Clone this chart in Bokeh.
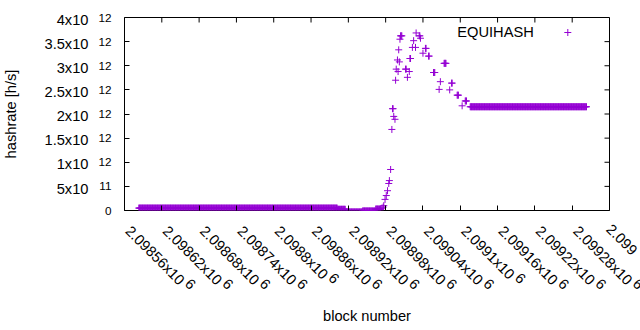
import math
from bokeh.plotting import figure
from bokeh.models import Range1d, FixedTicker, LinearAxis, Label, ColumnDataSource
from bokeh.embed import file_html
from bokeh.resources import INLINE

# ---- data ----
# runs of constant hashrate: first block, last block, hashrate [h/s]
run_first = [2098583, 2098903, 2098916, 2098943, 2098964, 2099116]
run_last = [2098902, 2098915, 2098942, 2098963, 2098972, 2099303]
run_rate = [5.0e10, 2.5e10, -3.0e10, -1.0e10, 3.0e10, 2.15e12]

# individually read blocks
pt_block = [2098974, 2098976, 2098977, 2098979, 2098981, 2098983, 2098985, 2098986,
            2098988, 2098990, 2098991, 2098992, 2098993, 2098995, 2098996, 2098997,
            2098999, 2099000, 2099001, 2099002, 2099003, 2099004, 2099005, 2099006,
            2099012, 2099013, 2099015, 2099018, 2099019, 2099020, 2099023, 2099025,
            2099028, 2099029, 2099034, 2099035, 2099036, 2099040, 2099044, 2099045,
            2099049, 2099050, 2099057, 2099058, 2099059, 2099066, 2099068, 2099074,
            2099075, 2099076, 2099077, 2099083, 2099086, 2099087, 2099095, 2099096,
            2099097, 2099103, 2099108, 2099109, 2099110]
pt_rate = [5.0e10, 7.0e10, 1.0e11, 2.3e11, 3.1e11, 4.1e11, 5.6e11, 6.2e11,
           8.5e11, 1.68e12, 2.11e12, 2.11e12, 1.95e12, 1.89e12, 2.70e12, 2.93e12,
           3.12e12, 2.88e12, 3.33e12, 3.08e12, 3.55e12, 3.62e12, 3.62e12, 3.62e12,
           2.93e12, 2.93e12, 2.76e12, 2.88e12, 3.15e12, 3.15e12, 3.38e12, 3.52e12,
           3.38e12, 3.68e12, 3.62e12, 3.62e12, 3.57e12, 3.26e12, 3.36e12, 3.36e12,
           3.20e12, 3.20e12, 2.86e12, 2.86e12, 2.86e12, 2.51e12, 2.67e12, 3.05e12,
           3.05e12, 3.05e12, 3.05e12, 2.50e12, 2.64e12, 2.64e12, 2.39e12, 2.39e12,
           2.39e12, 2.17e12, 2.27e12, 2.27e12, 2.27e12]

x_ticks = [2098560, 2098620, 2098680, 2098740, 2098800, 2098860, 2098920,
           2098980, 2099040, 2099100, 2099160, 2099220, 2099280, 2099340]
x_tick_mant = ["2.09856x10", "2.09862x10", "2.09868x10", "2.09874x10", "2.0988x10",
               "2.09886x10", "2.09892x10", "2.09898x10", "2.09904x10", "2.0991x10",
               "2.09916x10", "2.09922x10", "2.09928x10", "2.099"]  # last one cut by the edge
x_tick_exp = ["6"] * 13 + [""]

y_ticks = [0, 5e11, 1e12, 1.5e12, 2e12, 2.5e12, 3e12, 3.5e12, 4e12]
y_tick_main = ["0", "5x10", "1x10", "1.5x10", "2x10", "2.5x10", "3x10", "3.5x10", "4x10"]
y_tick_exp = ["", "11", "12", "12", "12", "12", "12", "12", "12"]

series_name = "EQUIHASH"
x_title = "block number"
y_title = "hashrate [h/s]"

# ---- expand runs ----
blocks, rates = [], []
for f, l, r in zip(run_first, run_last, run_rate):
    for b in range(f, l + 1):
        blocks.append(b)
        rates.append(r)
blocks += pt_block
rates += pt_rate

# ---- style ----
FONT = "Liberation Sans"
FS = "14.67px"
FS_EXP = "11.73px"
COLOR = "#9400d3"
FW, FH = 485, 193
TICK = 5

p = figure(frame_width=FW, frame_height=FH,
           min_border_left=124, min_border_right=31, min_border_top=17, min_border_bottom=120,
           x_range=Range1d(x_ticks[0], x_ticks[-1]), y_range=Range1d(y_ticks[0], y_ticks[-1]),
           x_axis_type=None, y_axis_type=None,
           output_backend="svg", toolbar_location=None)
p.extra_x_ranges = {"px": Range1d(0, FW)}
p.extra_y_ranges = {"px": Range1d(0, FH)}
# mantissas of the y labels sit ~2px below their tick
d = 2.2 * (y_ticks[-1] - y_ticks[0]) / FH
p.extra_y_ranges["ymant"] = Range1d(y_ticks[0] + d, y_ticks[-1] + d)
p.xgrid.visible = False
p.ygrid.visible = False
p.outline_line_color = "black"
p.outline_line_width = 1
p.outline_line_alpha = 1
p.background_fill_color = "white"
p.border_fill_color = "white"


def mk_axis(ticks, labels, font_size, tick_in, **kw):
    return LinearAxis(ticker=FixedTicker(ticks=ticks),
                      major_label_overrides={t: s for t, s in zip(ticks, labels)},
                      major_tick_in=tick_in, major_tick_out=0,
                      major_tick_line_color="black" if tick_in else None,
                      minor_tick_line_color=None, axis_line_color=None,
                      major_label_text_font=FONT, major_label_text_font_size=font_size,
                      major_label_text_color="black",
                      axis_label_text_font=FONT, axis_label_text_font_size=FS,
                      axis_label_text_font_style="normal", axis_label_text_color="black", **kw)


# x axis: rotated labels, exponent on a raised first line padded to the mantissa width
PAD = {".": "\u2008", "x": "\u2002"}
xlab = []
for mt, ex in zip(x_tick_mant, x_tick_exp):
    if ex:
        pad = "".join(PAD.get(ch, "\u2007") for ch in mt)
        xlab.append("\u2002" + pad + "\u2009" + ex + "\n" + "\u2002" + mt)
    else:
        xlab.append("\u2002" + mt)
xb = mk_axis(x_ticks, xlab, FS, TICK)
xb.major_label_orientation = -math.pi / 4
xb.major_label_text_line_height = 0.3
xb.major_label_standoff = 11
xb.axis_label = x_title
xb.axis_label_standoff = 2
p.add_layout(xb, "below")

# y axis: exponents (closest to the frame), then mantissas further out
yb_labels = [e if e else m for m, e in zip(y_tick_main, y_tick_exp)]
yb = mk_axis(y_ticks, yb_labels, FS_EXP, TICK)
yb.major_label_standoff = 13
p.add_layout(yb, "left")

ya_ticks = [t for t, e in zip(y_ticks, y_tick_exp) if e]
ya_labels = [m for m, e in zip(y_tick_main, y_tick_exp) if e]
ya = mk_axis(ya_ticks, ya_labels, FS, 0, y_range_name="ymant")
ya.major_label_standoff = 7
ya.axis_label = y_title
ya.axis_label_standoff = 22
p.add_layout(ya, "left")

# mirrored inward ticks on top and right
n = len(x_ticks)
p.segment(x0=x_ticks, y0=[FH] * n, x1=x_ticks, y1=[FH - TICK] * n, y_range_name="px",
          line_color="black", line_width=1)
m = len(y_ticks)
p.segment(x0=[FW] * m, y0=y_ticks, x1=[FW - TICK] * m, y1=y_ticks, x_range_name="px",
          line_color="black", line_width=1)

src = ColumnDataSource(dict(x=blocks, y=rates))
p.scatter("x", "y", source=src, marker="cross", size=7, line_color=COLOR, line_width=1)

# legend: text then sample marker (pixel range inside the frame)
p.scatter([443.3], [178.0], x_range_name="px", y_range_name="px",
          marker="cross", size=7, line_color=COLOR, line_width=1)
p.add_layout(Label(x=409.3, y=178.3, x_range_name="px", y_range_name="px", text=series_name,
                   text_font=FONT, text_font_size=FS, text_align="right",
                   text_baseline="middle", text_color="black"))

open("out.html", "w").write(file_html(p, INLINE))
